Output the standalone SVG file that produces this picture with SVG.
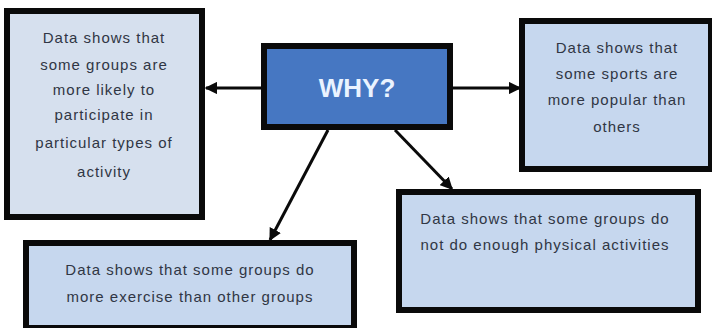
<svg xmlns="http://www.w3.org/2000/svg" width="712" height="328" viewBox="0 0 712 328">
  <style>
    .box { fill: #C6D7EE; stroke: #0a0a0a; stroke-width: 6; }
    .box-light { fill: #D6E0EE; }
    .hub { fill: #4677C2; stroke: #0a0a0a; stroke-width: 6; }
    .txt { font-family: "Liberation Sans", Arial, sans-serif; font-size: 15px; fill: #303644; text-anchor: middle; letter-spacing: 1px; }
    .hub-txt { font-family: "Liberation Sans", Arial, sans-serif; font-size: 26px; font-weight: bold; fill: #EAF3FF; text-anchor: middle; }
    .conn { stroke: #0a0a0a; stroke-width: 3; fill: none; marker-end: url(#arrow); }
  </style>
  <defs>
    <marker id="arrow" viewBox="0 0 10 10" refX="9" refY="5" markerWidth="4.2" markerHeight="4.2" orient="auto" markerUnits="strokeWidth">
      <path d="M0,0 L10,5 L0,10 z" fill="#0a0a0a"/>
    </marker>
  </defs>
  <rect width="712" height="328" fill="#ffffff"/>

  <g id="connectors">
    <line class="conn" x1="262" y1="88" x2="206" y2="88"/>
    <line class="conn" x1="452" y1="88" x2="520" y2="88"/>
    <line class="conn" x1="328" y1="130" x2="270" y2="240"/>
    <line class="conn" x1="395" y1="130" x2="452" y2="189"/>
  </g>

  <g id="node-groups">
    <rect class="box box-light" x="7" y="11" width="195" height="206"/>
    <text class="txt" x="104" y="43">Data shows that</text>
    <text class="txt" x="104" y="70">some groups are</text>
    <text class="txt" x="104" y="95">more likely to</text>
    <text class="txt" x="104" y="120">participate in</text>
    <text class="txt" x="104" y="148">particular types of</text>
    <text class="txt" x="104" y="177">activity</text>
  </g>

  <g id="node-why">
    <rect class="hub" x="264" y="46" width="186" height="81"/>
    <text class="hub-txt" x="357" y="97">WHY?</text>
  </g>

  <g id="node-sports">
    <rect class="box" x="522" y="21" width="189" height="148"/>
    <text class="txt" x="617" y="53">Data shows that</text>
    <text class="txt" x="617" y="79">some sports are</text>
    <text class="txt" x="617" y="105">more popular than</text>
    <text class="txt" x="617" y="132">others</text>
  </g>

  <g id="node-exercise">
    <rect class="box" x="26" y="243" width="328" height="85"/>
    <text class="txt" x="190" y="275">Data shows that some groups do</text>
    <text class="txt" x="190" y="302">more exercise than other groups</text>
  </g>

  <g id="node-activity">
    <rect class="box" x="399" y="192" width="299" height="118"/>
    <text class="txt" x="545" y="224">Data shows that some groups do</text>
    <text class="txt" x="545" y="250">not do enough physical activities</text>
  </g>
</svg>
